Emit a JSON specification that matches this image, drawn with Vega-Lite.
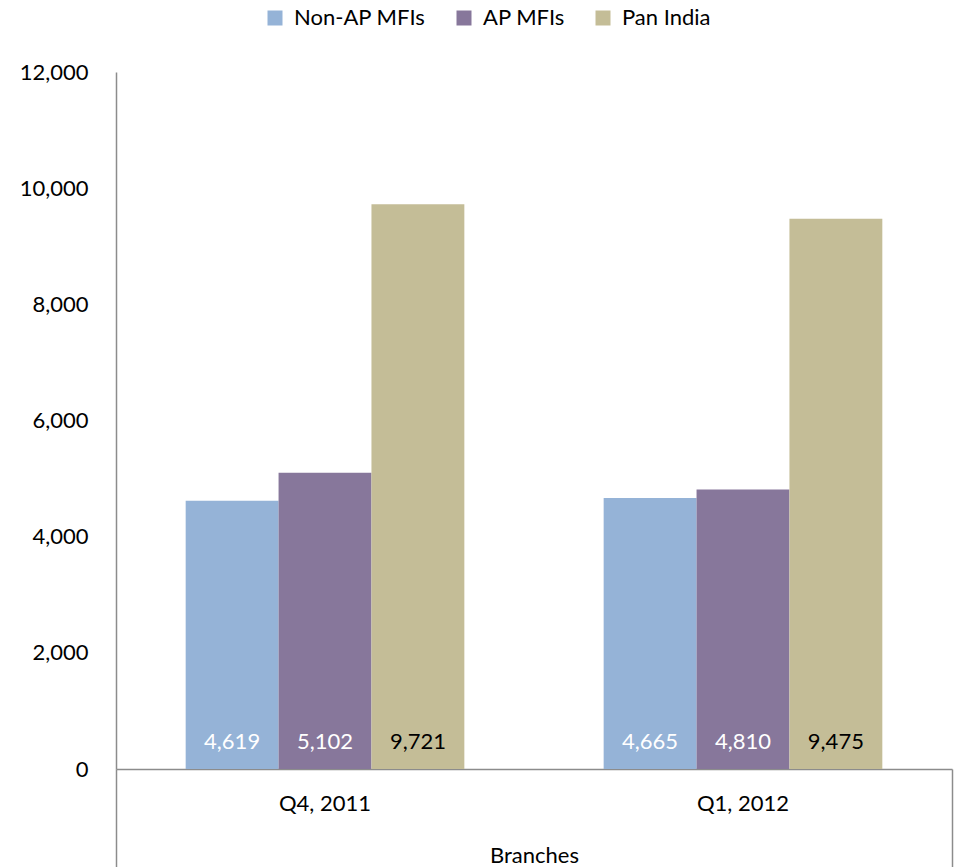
{
  "$schema": "https://vega.github.io/schema/vega-lite/v6.json",
  "width": 836,
  "height": 697,
  "autosize": {"type": "none"},
  "padding": {"left": 116, "top": 72, "right": 5, "bottom": 98},
  "background": "white",
  "config": {
    "font": "Lato",
    "view": {"stroke": null},
    "axis": {"labelFont": "Lato", "titleFont": "Lato", "labelColor": "#000000", "titleColor": "#000000"}
  },
  "data": {
    "values": [
      {"quarter": "Q4, 2011", "series": "Non-AP MFIs", "branches": 4619},
      {"quarter": "Q4, 2011", "series": "AP MFIs", "branches": 5102},
      {"quarter": "Q4, 2011", "series": "Pan India", "branches": 9721},
      {"quarter": "Q1, 2012", "series": "Non-AP MFIs", "branches": 4665},
      {"quarter": "Q1, 2012", "series": "AP MFIs", "branches": 4810},
      {"quarter": "Q1, 2012", "series": "Pan India", "branches": 9475}
    ]
  },
  "layer": [
    {
      "layer": [
        {
          "mark": {"type": "bar"},
          "encoding": {
            "x": {
              "field": "quarter",
              "type": "nominal",
              "sort": ["Q4, 2011", "Q1, 2012"],
              "scale": {"paddingInner": 0.3333, "paddingOuter": 0.1667},
              "axis": {
                "domain": false,
                "ticks": false,
                "tickSize": 0,
                "labelAngle": 0,
                "labelFontSize": 22,
                "labelBaseline": "middle",
                "labelPadding": 34,
                "title": "Branches",
                "titleFontSize": 22,
                "titleFontWeight": "normal",
                "titleBaseline": "middle",
                "titleY": 86
              }
            },
            "xOffset": {
              "field": "series",
              "type": "nominal",
              "sort": ["Non-AP MFIs", "AP MFIs", "Pan India"],
              "scale": {"paddingInner": 0, "paddingOuter": 0}
            },
            "y": {
              "field": "branches",
              "type": "quantitative",
              "scale": {"domain": [0, 12000], "nice": false},
              "axis": {
                "values": [0, 2000, 4000, 6000, 8000, 10000, 12000],
                "labelExpr": "format(datum.value, ',')",
                "grid": false,
                "ticks": false,
                "domainColor": "#8c8c8c",
                "domainWidth": 1.5,
                "labelFontSize": 22,
                "labelPadding": 28,
                "title": null
              }
            },
            "color": {
              "field": "series",
              "type": "nominal",
              "sort": ["Non-AP MFIs", "AP MFIs", "Pan India"],
              "scale": {
                "domain": ["Non-AP MFIs", "AP MFIs", "Pan India"],
                "range": ["#95b3d7", "#87779b", "#c4bd97"]
              },
              "legend": {
                "orient": "none",
                "direction": "horizontal",
                "legendX": 148,
                "legendY": -65,
                "title": null,
                "symbolType": "square",
                "symbolSize": 225,
                "symbolStrokeWidth": 0,
                "labelFontSize": 22,
                "labelOffset": 8,
                "columnPadding": 27,
                "labelColor": "#000000"
              }
            }
          }
        },
        {
          "mark": {"type": "text", "baseline": "middle", "align": "center", "dy": -27, "fontSize": 22},
          "encoding": {
            "x": {"field": "quarter", "type": "nominal", "sort": ["Q4, 2011", "Q1, 2012"]},
            "xOffset": {"field": "series", "type": "nominal", "sort": ["Non-AP MFIs", "AP MFIs", "Pan India"]},
            "y": {"datum": 0, "type": "quantitative"},
            "text": {"field": "branches", "type": "quantitative", "format": ","},
            "fill": {
              "condition": {"test": "datum.series === 'Pan India'", "value": "#000000"},
              "value": "#ffffff"
            }
          }
        }
      ]
    },
    {
      "mark": {"type": "rule", "opacity": 0},
      "encoding": {
        "x": {
          "datum": "Branches",
          "type": "nominal",
          "scale": {"paddingInner": 0, "paddingOuter": 0},
          "axis": {
            "orient": "bottom",
            "tickBand": "extent",
            "ticks": true,
            "tickSize": 98,
            "tickColor": "#8c8c8c",
            "tickWidth": 1.5,
            "domain": true,
            "domainColor": "#8c8c8c",
            "domainWidth": 1.5,
            "labels": false,
            "title": null
          }
        }
      }
    }
  ],
  "resolve": {"scale": {"x": "independent"}, "axis": {"x": "independent"}}
}
